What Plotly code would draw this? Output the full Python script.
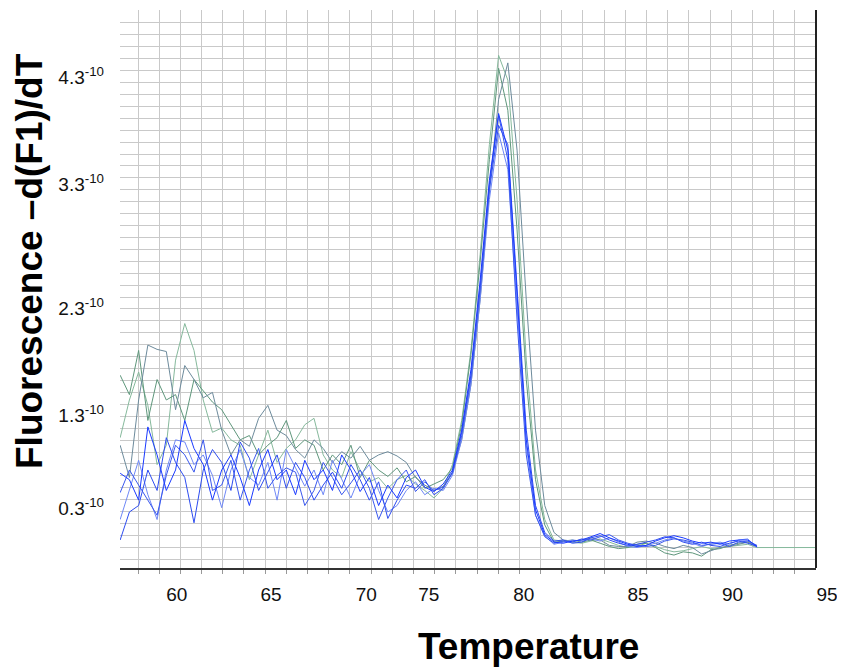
import plotly.graph_objects as go

# ---------------- data (fluorescence in units of 1e-10) ----------------
TEMPS = [57.1, 57.6, 58.1, 58.6, 59.1, 59.6, 60.1, 60.6, 61.1, 61.6,
         62.1, 62.6, 63.1, 63.6, 64.1, 64.6, 65.1, 65.6, 66.1, 66.6,
         67.1, 67.6, 68.1, 68.6, 69.1, 69.6, 70.1, 70.6, 71.1, 71.6,
         72.1, 72.6, 73.1, 73.6, 74.1, 74.6, 75.1, 75.6, 76.1, 76.6,
         77.1, 77.6, 78.1, 78.6, 79.1, 79.6, 80.1, 80.6, 81.1, 81.6,
         82.1, 82.6, 83.1, 83.6, 84.1, 84.6, 85.1, 85.6, 86.1, 86.6,
         87.1, 87.6, 88.1, 88.6, 89.1, 89.6, 90.1, 90.6, 91.1, 91.6]

G1 = [0.95, 1.30, 1.56, 1.25, 0.70, 0.88, 1.67, 2.01, 1.76, 1.30,
      1.00, 1.04, 0.93, 0.88, 0.56, 0.79, 1.02, 0.72, 0.85, 0.93,
      1.07, 1.13, 0.79, 0.65, 0.58, 0.82, 0.65, 0.54, 0.58, 0.48,
      0.56, 0.60, 0.52, 0.46, 0.39, 0.48, 0.70,
      1.11, 1.76, 2.65, 3.67, 4.50, 4.27, 3.16, 1.67, 0.65, 0.19,
      0.00, -0.01, -0.02, -0.03, -0.01, 0.01, -0.02, -0.05, -0.07, -0.06,
      -0.03, -0.06, -0.09, -0.11, -0.10, -0.08, -0.06, -0.08, -0.07, -0.06,
      -0.05, -0.04, -0.07]

G2 = [0.88, 0.58, 1.30, 1.81, 1.77, 1.75, 1.21, 1.62, 1.49, 1.32,
      1.37, 1.02, 0.79, 0.93, 0.87, 1.13, 1.25, 1.02, 0.97, 0.84,
      0.76, 0.93, 0.85, 0.72, 0.82, 0.76, 0.87, 0.74, 0.79, 0.82,
      0.78, 0.72, 0.58, 0.51, 0.46, 0.50,
      0.63, 0.93, 1.44, 2.23, 3.25, 4.09, 4.43, 3.62, 2.23, 1.02, 0.32, 0.07,
      0.00, -0.01, 0.00, 0.02, 0.00, -0.05, -0.06, -0.06, -0.02, -0.01,
      -0.03, -0.06, -0.08, -0.05, -0.07, -0.13, -0.10, -0.07, -0.06, -0.04,
      -0.02, -0.06]

G3 = [1.53, 1.35, 1.76, 1.11, 1.49, 1.30, 1.35, 1.11, 1.49, 1.39,
      1.28, 1.21, 1.07, 0.93, 0.97, 0.79, 0.88, 0.95, 1.11, 0.85,
      0.93, 0.88, 0.65, 0.79, 0.70, 0.88, 0.58, 0.74, 0.65, 0.59,
      0.67, 0.54, 0.59, 0.48, 0.52, 0.56,
      0.67, 1.07, 1.72, 2.58, 3.53, 4.38, 3.99, 2.88, 1.49, 0.56, 0.14,
      -0.02, -0.01, 0.00, -0.02, 0.00, -0.03, -0.06, -0.08, -0.07, -0.04,
      -0.03, -0.07, -0.12, -0.14, -0.11, -0.12, -0.15, -0.09, -0.08, -0.05,
      -0.03, -0.02, -0.06]

B1 = [0.62, 0.56, 0.37, 1.05, 0.79, 0.46, 0.65, 1.11, 0.85, 0.70,
      0.37, 0.65, 0.79, 0.58, 0.32, 0.65, 0.84, 0.56, 0.65, 0.42,
      0.74, 0.56, 0.65, 0.46, 0.79, 0.65, 0.45, 0.58, 0.32, 0.51,
      0.39, 0.58, 0.65, 0.49, 0.45, 0.52,
      0.65, 1.02, 1.58, 2.41, 3.34, 3.96, 3.62, 2.23, 0.93, 0.28, 0.05,
      -0.02, -0.03, -0.01, 0.00, 0.03, 0.06, 0.02, -0.01, -0.04, -0.06,
      -0.05, -0.01, 0.02, 0.04, 0.02, -0.01, -0.03, -0.02, -0.04, -0.01,
      0.00, 0.00, -0.06]

B2 = [0.44, 0.65, 0.51, 0.37, 0.23, 0.60, 0.88, 0.79, 0.63, 0.93,
      0.46, 0.51, 0.74, 0.37, 0.65, 0.85, 0.48, 0.60, 0.67, 0.63,
      0.32, 0.46, 0.72, 0.58, 0.42, 0.53, 0.65, 0.48, 0.19, 0.39,
      0.56, 0.65, 0.45, 0.54, 0.46, 0.49,
      0.62, 0.97, 1.50, 2.32, 3.30, 3.94, 3.53, 2.04, 0.79, 0.23, 0.03,
      -0.03, -0.01, -0.02, 0.01, 0.00, 0.03, 0.05, 0.00, -0.03, -0.05,
      -0.06, -0.05, -0.01, 0.01, 0.00, -0.02, -0.05, -0.04, -0.03, -0.06,
      -0.02, -0.01, -0.05]

B3 = [0.19, 0.46, 0.74, 0.42, 0.19, 0.65, 0.93, 0.91, 0.70, 0.79,
      0.60, 0.30, 0.65, 0.84, 0.58, 0.51, 0.72, 0.37, 0.84, 0.67,
      0.50, 0.65, 0.42, 0.74, 0.56, 0.39, 0.60, 0.70, 0.46, 0.26,
      0.32, 0.46, 0.54, 0.42, 0.48, 0.46,
      0.60, 0.93, 1.44, 2.23, 3.16, 3.78, 3.44, 2.14, 0.88, 0.23, 0.04,
      -0.04, -0.02, 0.00, -0.01, 0.01, -0.01, 0.02, -0.02, -0.06, -0.07,
      -0.05, -0.03, 0.00, 0.02, -0.01, -0.03, -0.06, -0.03, -0.02, -0.04,
      0.00, 0.01, -0.07]

B4 = [0.00, 0.26, 0.32, 0.65, 0.46, 0.95, 0.72, 0.58, 0.16, 0.65,
      0.84, 0.72, 0.46, 0.91, 0.76, 0.46, 0.63, 0.79, 0.48, 0.72,
      0.58, 0.37, 0.51, 0.63, 0.48, 0.70, 0.56, 0.37, 0.54, 0.20,
      0.37, 0.51, 0.48, 0.56, 0.42, 0.48,
      0.63, 1.00, 1.53, 2.34, 3.25, 3.85, 3.67, 2.32, 1.02, 0.32, 0.07,
      -0.01, 0.00, -0.03, -0.02, 0.02, 0.04, 0.00, -0.03, -0.05, -0.04,
      -0.02, 0.00, 0.03, 0.02, -0.02, -0.04, -0.02, -0.05, -0.06, -0.03,
      -0.01, -0.03, -0.06]

# flat baseline of the light green trace after the run ends
TAIL_T = [92.6, 93.6, 94.6, 95.1]
TAIL_V = [-0.07, -0.07, -0.07, -0.07]

X_TICK_TEXT = ["60", "65", "70", "75", "80", "85", "90", "95"]
Y_TICK_TEXT = ["0.3<sup>-10</sup>", "1.3<sup>-10</sup>", "2.3<sup>-10</sup>",
               "3.3<sup>-10</sup>", "4.3<sup>-10</sup>"]

# ---------------- layout / style ----------------
X_TICK_POS = [59.512, 64.621, 69.783, 73.164, 78.315, 84.502, 89.621, 94.74]
Y_TICK_POS = [0.294, 1.161, 2.151, 3.301, 4.296]

FONT = "Arial, Liberation Sans, sans-serif"

series = [
    (G3, "#5f977c"),
    (G2, "#6d8b9c"),
    (B3, "#6f88f6"),
    (B4, "#2d4cf0"),
    (B2, "#3a58ee"),
    (B1, "#1a3aff"),
]

fig = go.Figure()
fig.add_trace(go.Scatter(x=TEMPS + TAIL_T, y=G1 + TAIL_V, mode="lines",
                         line=dict(color="#86b99c", width=1),
                         showlegend=False, hoverinfo="skip"))
for vals, col in series:
    fig.add_trace(go.Scatter(x=TEMPS, y=vals, mode="lines",
                             line=dict(color=col, width=1),
                             showlegend=False, hoverinfo="skip"))

# the page body adds an 8 px offset, so the figure is 8 px smaller
fig.update_layout(
    width=837, height=660,
    margin=dict(l=112, r=29, t=2, b=100, autoexpand=False),
    plot_bgcolor="white", paper_bgcolor="white",
    font=dict(family=FONT, color="#111", size=19),
    xaxis=dict(
        range=[57.091, 94.794],
        tickmode="array", tickvals=X_TICK_POS, ticktext=X_TICK_TEXT,
        ticks="", showgrid=False, zeroline=False,
        showline=True, linecolor="#333", linewidth=1.5,
        ticklabelshift=12, ticklabelstandoff=8,
        tickfont=dict(size=19, family=FONT, color="#111"),
        minor=dict(tick0=58.066, dtick=1.14789, showgrid=True,
                   gridcolor="#c9c9c9", gridwidth=1,
                   ticks="outside", ticklen=4, tickcolor="#999", tickwidth=1),
    ),
    yaxis=dict(
        range=[-0.260, 4.921],
        tickmode="array", tickvals=Y_TICK_POS, ticktext=Y_TICK_TEXT,
        ticks="", showgrid=False, zeroline=False, showline=False,
        ticklabelstandoff=15,
        tickfont=dict(size=19, family=FONT, color="#111"),
        minor=dict(tick0=-0.1792, dtick=0.11068, showgrid=True,
                   gridcolor="#c9c9c9", gridwidth=1, ticks=""),
    ),
    shapes=[dict(type="line", xref="x domain", yref="y domain",
                 x0=1, x1=1, y0=0, y1=1,
                 line=dict(color="#222", width=2))],
    annotations=[
        dict(text="Fluorescence –d(F1)/dT", textangle=-90,
             xref="paper", yref="paper", x=-0.1293, y=0.5502,
             xanchor="center", yanchor="middle", showarrow=False,
             font=dict(size=37, family=FONT, color="#000", weight="bold")),
        dict(text="Temperature",
             xref="paper", yref="paper", x=0.5876, y=-0.1398,
             xanchor="center", yanchor="middle", showarrow=False,
             font=dict(size=37, family=FONT, color="#000", weight="bold")),
    ],
)

fig.write_html("out.html")
